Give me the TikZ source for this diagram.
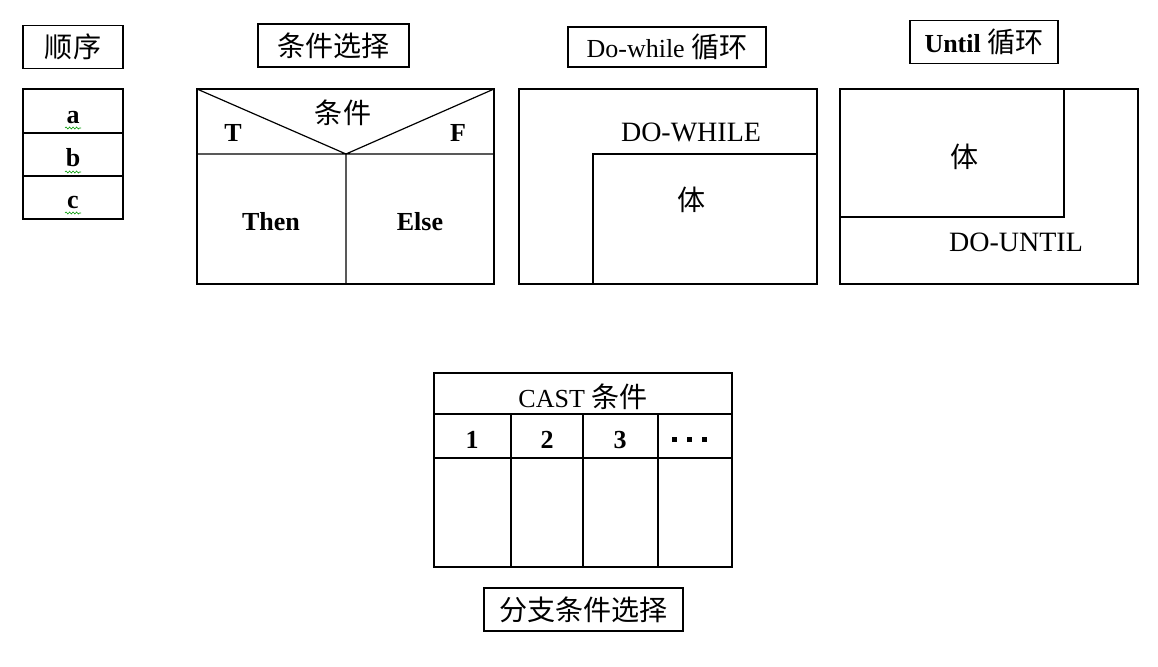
\documentclass[tikz,border=0pt]{standalone}
\usepackage{fontspec}
\setmainfont{Liberation Serif}
\newfontfamily\cjk[Scale=1.08]{Noto Sans CJK SC}
\usetikzlibrary{decorations.pathmorphing}
\tikzset{
  box/.style={draw,line width=1.6pt},
  sep/.style={draw,line width=1.2pt},
  title/.style={draw,line width=1.4pt,inner sep=0pt,minimum height=43pt},
  txt/.style={inner sep=0pt},
  wide/.style={inner sep=0pt,font=\fontsize{28}{32}\selectfont},
  wavy/.style={draw=green!60!black,line width=0.6pt,decorate,decoration={snake,amplitude=1pt,segment length=3.5pt}}
}
\begin{document}
\begin{tikzpicture}[x=1pt,y=-1pt,font=\fontsize{26}{30}\selectfont]
\fill[white] (0,0) rectangle (1158,666);
\useasboundingbox (0,0) rectangle (1158,666);

\node[title,minimum width=100pt] (shunxu) at (73,47) {\cjk 顺序};
\draw[box] (23,89) rectangle (123,219);
\draw[sep] (23,133) -- (123,133) (23,176) -- (123,176);
\node[txt,anchor=base] (a) at (73,124) {\textbf{a}};
\node[txt,anchor=base] (b) at (73,166) {\textbf{b}};
\node[txt,anchor=base] (c) at (73,208) {\textbf{c}};
\draw[wavy] (65,128) -- (81,128);
\draw[wavy] (65,172) -- (81,172);
\draw[wavy] (65,213) -- (81,213);

\node[title,minimum width=151pt] (xuanze) at (333.5,45.5) {\cjk 条件选择};
\draw[box] (197,89) rectangle (494,284);
\draw[sep] (197,154) -- (494,154) (197,89) -- (346,154) -- (494,89) (346,154) -- (346,284);
\node[txt] (cond) at (343,113) {\cjk 条件};
\node[txt,anchor=base] (t) at (233,142) {\textbf{T}};
\node[txt,anchor=base] (f) at (458,142) {\textbf{F}};
\node[txt,anchor=base] (then) at (271,230) {\textbf{Then}};
\node[txt,anchor=base] (else) at (420,230) {\textbf{Else}};

\node[title,minimum width=198pt,minimum height=40pt] (dowhile) at (667,47) {Do-while {\cjk 循环}};
\draw[box] (519,89) rectangle (817,284);
\draw[sep] (593,284) -- (593,154) -- (817,154);
\node[wide,anchor=base] (whilecond) at (691,142) {DO-WHILE};
\node[txt] (whilebody) at (692,200) {\cjk 体};

\node[title,minimum width=148pt] (until) at (984,42) {\textbf{Until} {\cjk 循环}};
\draw[box] (840,89) rectangle (1138,284);
\draw[sep] (1064,89) -- (1064,217) -- (840,217);
\node[txt] (untilbody) at (965,157) {\cjk 体};
\node[wide,anchor=base] (untilcond) at (1016,251) {DO-UNTIL};

\draw[box] (434,373) rectangle (732,567);
\draw[sep] (434,414) -- (732,414) (434,458) -- (732,458);
\draw[sep] (511,414) -- (511,567) (583,414) -- (583,567) (658,414) -- (658,567);
\node[txt,anchor=base] (cast) at (583,407) {CAST {\cjk 条件}};
\node[txt,anchor=base] (one) at (472,448) {\textbf{1}};
\node[txt,anchor=base] (two) at (547,448) {\textbf{2}};
\node[txt,anchor=base] (three) at (620,448) {\textbf{3}};
\node[txt,anchor=base] (more) at (689,448) {\rule[6pt]{5pt}{5pt}\hspace{10pt}\rule[6pt]{5pt}{5pt}\hspace{10pt}\rule[6pt]{5pt}{5pt}};
\node[title,minimum width=199pt] (fenzhi) at (583.5,609.5) {\cjk 分支条件选择};
\end{tikzpicture}
\end{document}
